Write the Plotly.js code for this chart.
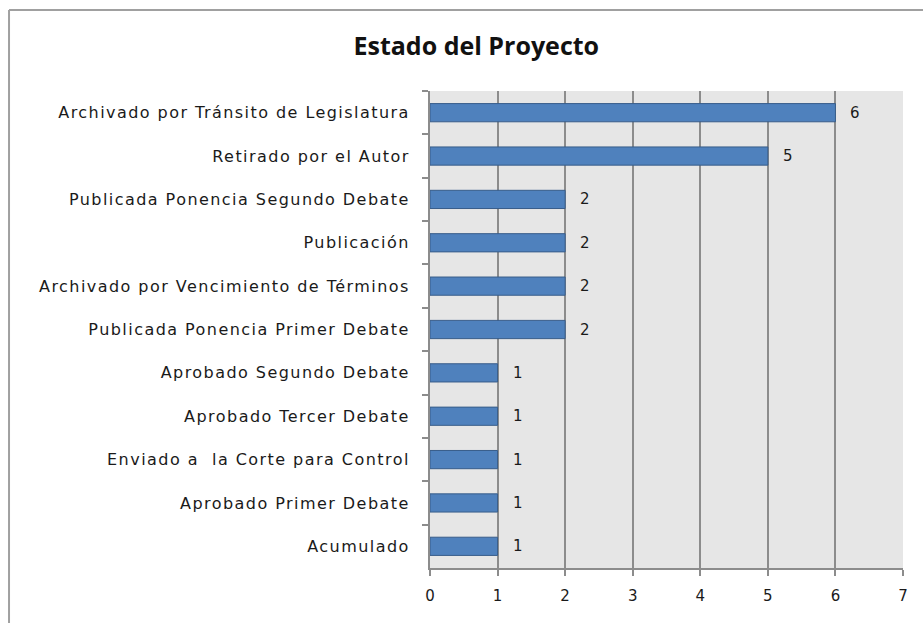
<!DOCTYPE html>
<html>
<head>
<meta charset="utf-8">
<script src="https://cdn.plot.ly/plotly-3.0.1.min.js"></script>
<style>
html,body{margin:0;padding:0;background:#fff;}
#chart{width:923px;height:623px;}
#chart .ytick text{letter-spacing:1.45px;}
</style>
</head>
<body>
<div id="chart"></div>
<script>
var categories = [
  "Archivado por Tránsito de Legislatura",
  "Retirado por el Autor",
  "Publicada Ponencia Segundo Debate",
  "Publicación",
  "Archivado por Vencimiento de Términos",
  "Publicada Ponencia Primer Debate",
  "Aprobado Segundo Debate",
  "Aprobado Tercer Debate",
  "Enviado a  la Corte para Control",
  "Aprobado Primer Debate",
  "Acumulado"
];
var values = [6, 5, 2, 2, 2, 2, 1, 1, 1, 1, 1];
var xTicks = [0, 1, 2, 3, 4, 5, 6, 7];

var labelFont = {family: "DejaVu Sans", size: 15, color: "#1a1a1a"};
var catFont = {family: "DejaVu Sans", size: 16, color: "#1a1a1a"};

var trace = {
  type: "bar",
  orientation: "h",
  x: values,
  y: categories,
  marker: {color: "#4F81BD", line: {color: "#385D8A", width: 1}},
  width: 0.42,
  hoverinfo: "x+y"
};

var annotations = categories.map(function (c, i) {
  return {
    x: values[i], y: c, xref: "x", yref: "y",
    text: String(values[i]), showarrow: false,
    xanchor: "left", xshift: 13, font: labelFont
  };
});

var shapes = [
  {type: "line", xref: "paper", yref: "paper", x0: -0.890, x1: 1.1, y0: 1.170, y1: 1.170,
   line: {color: "#a0a0a0", width: 2}},
  {type: "line", xref: "paper", yref: "paper", x0: -0.890, x1: -0.890, y0: 1.170, y1: -0.2,
   line: {color: "#a0a0a0", width: 2}}
];

var layout = {
  width: 923, height: 623,
  margin: {l: 430, r: 20, t: 91, b: 55},
  paper_bgcolor: "#ffffff",
  plot_bgcolor: "#E6E6E6",
  showlegend: false,
  title: {
    text: "<b>Estado del Proyecto</b>",
    font: {family: "Open Sans", size: 25, color: "#111"},
    x: 0.516, xanchor: "center", xref: "container",
    y: 0.925, yanchor: "middle", yref: "container"
  },
  xaxis: {
    range: [0, 7],
    tickvals: xTicks,
    ticktext: xTicks.map(String),
    showgrid: true, gridcolor: "#8c8c8c", gridwidth: 2,
    zeroline: false,
    showline: true, linecolor: "#8c8c8c", linewidth: 2,
    ticks: "outside", ticklen: 6, tickcolor: "#8c8c8c", tickwidth: 2,
    tickfont: labelFont,
    ticklabelstandoff: 7,
    fixedrange: true
  },
  yaxis: {
    type: "category",
    autorange: "reversed",
    showgrid: false,
    showline: true, linecolor: "#8c8c8c", linewidth: 2,
    ticks: "outside", tickson: "boundaries", ticklen: 6, tickcolor: "#8c8c8c", tickwidth: 2,
    tickfont: catFont,
    ticklabelstandoff: 15,
    fixedrange: true
  },
  annotations: annotations,
  shapes: shapes
};

Plotly.newPlot("chart", [trace], layout, {displayModeBar: false, staticPlot: true});
</script>
</body>
</html>
